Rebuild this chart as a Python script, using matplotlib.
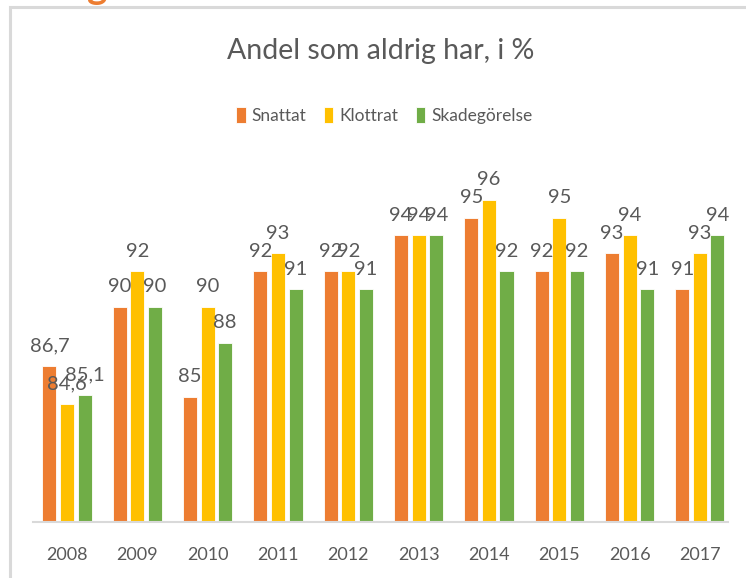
import numpy as np
import matplotlib.pyplot as plt
from matplotlib.patches import Rectangle

plt.rcParams['font.family'] = ['Lato', 'DejaVu Sans']

years = ['2008', '2009', '2010', '2011', '2012', '2013', '2014', '2015', '2016', '2017']
snattat = [86.7, 90, 85, 92, 92, 94, 95, 92, 93, 91]
klottrat = [84.6, 92, 90, 93, 92, 94, 96, 95, 94, 93]
skadegorelse = [85.1, 90, 88, 91, 91, 94, 92, 92, 91, 94]
series = ['Snattat', 'Klottrat', 'Skadegörelse']
colors = ['#ED7D31', '#FFC000', '#70AD47']
grey = '#595959'

def fmt(v):
    if v == int(v):
        return str(int(v))
    return ('%.1f' % v).replace('.', ',')

fig = plt.figure(figsize=(7.46, 5.78), dpi=100)
# chart frame (light border, cut at right/bottom like the screenshot)
fig.patches.append(Rectangle((10 / 746, -0.1), 1.2, 1 - 7 / 578 + 0.1,
                             transform=fig.transFigure, fill=False,
                             edgecolor='#D9D9D9', linewidth=2.2))
# cut-off orange heading above the chart
fig.text(0.131, 1.002, 'g', color='#ED7D31', fontsize=28, fontweight='bold',
         ha='center', va='baseline')

ax = fig.add_axes([33 / 746, 56 / 578, 695 / 746, 394 / 578])
x = np.arange(len(years))
w = 0.2
step = 0.25
for i, (vals, name, c) in enumerate(zip([snattat, klottrat, skadegorelse], series, colors)):
    xs = x + (i - 1) * step
    ax.bar(xs, np.array(vals) - 78, width=w, bottom=78, color=c,
           edgecolor='white', linewidth=0.6, label=name)
    for xx, v in zip(xs, vals):
        ax.text(xx, v + 0.65, fmt(v), ha='center', va='bottom',
                fontsize=14.5, color=grey)

ax.set_ylim(78, 100)
ax.set_xlim(-0.484, 9.40)
ax.set_yticks([])
ax.set_xticks(x)
ax.set_xticklabels(years, fontsize=13, color=grey)
ax.tick_params(axis='x', length=0, pad=18)
for s in ['top', 'right', 'left']:
    ax.spines[s].set_visible(False)
ax.spines['bottom'].set_color('#D9D9D9')
ax.spines['bottom'].set_linewidth(1.5)

fig.text(0.51, 0.912, 'Andel som aldrig har, i %', ha='center', va='center',
         fontsize=20.5, color=grey)
leg = fig.legend(loc='center', bbox_to_anchor=(0.515, 0.80), ncol=3,
                 frameon=False, fontsize=12.5, handlelength=0.55, handleheight=1.0,
                 handletextpad=0.35, columnspacing=1.0)
for t in leg.get_texts():
    t.set_color(grey)

fig.savefig('out.png', dpi=100)
